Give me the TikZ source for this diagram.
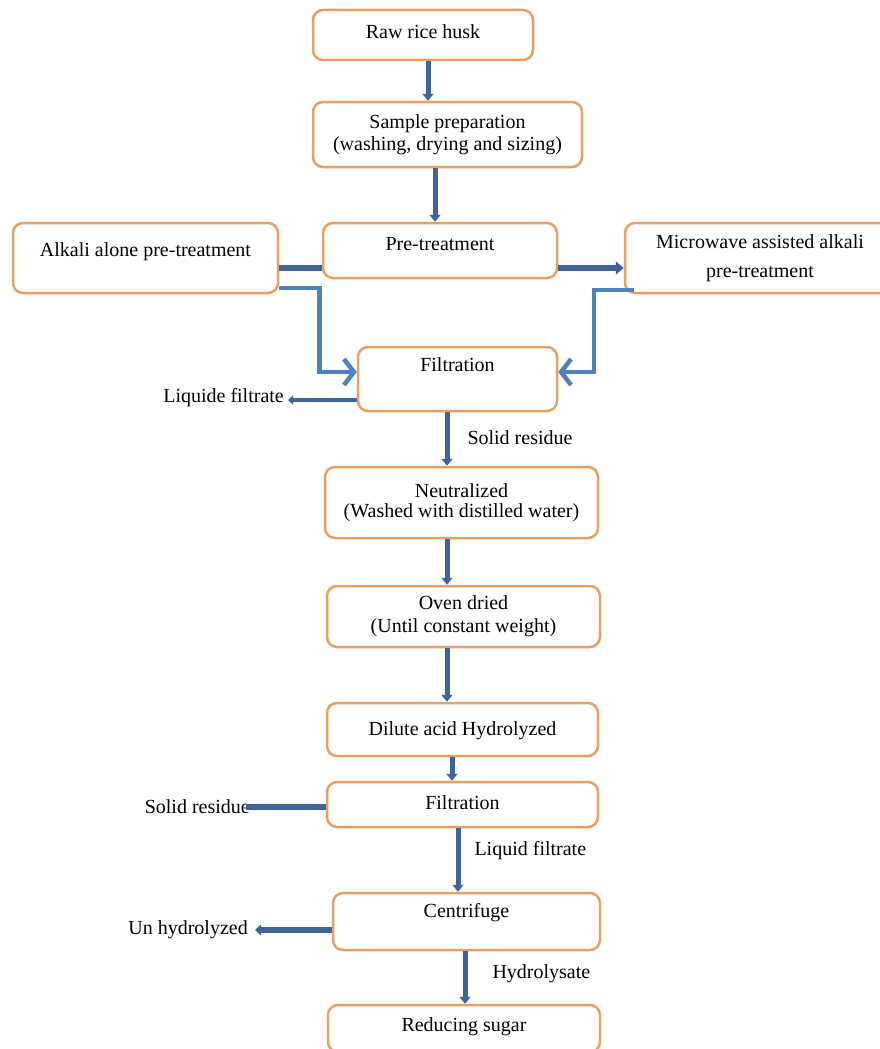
\documentclass[tikz,border=0pt]{standalone}
\usepackage{fontspec}
\setmainfont{Liberation Serif}
\usetikzlibrary{arrows.meta}
\definecolor{boxc}{RGB}{230,160,100}
\definecolor{linec}{RGB}{62,100,152}
\definecolor{lightc}{RGB}{79,129,189}
\begin{document}
\begin{tikzpicture}[x=1pt,y=-1pt,
  procbox/.style={draw=boxc, line width=2.5pt, rounded corners=10pt, fill=white, inner sep=0pt, align=center, font=\fontsize{20}{22}\selectfont, text=black},
  oneline/.style={text height=14pt, text depth=5pt},
  flow/.style={draw=linec, line width=5pt},
  flowarrow/.style={flow, -{Triangle[width=11pt,length=7pt]}},
  barb/.style={draw=lightc, line width=4.5pt, -{Straight Barb[length=10pt,width=26pt]}},
  lab/.style={font=\fontsize{20}{22}\selectfont, inner sep=0pt, text=black}]
\useasboundingbox (0,0) rectangle (880,1049);
\fill[white] (0,0) rectangle (880,1049);

% boxes
\node[procbox, oneline, text depth=8pt, minimum width=220pt, minimum height=50pt] (raw) at (423,35) {Raw rice husk};
\node[procbox, minimum width=269pt, minimum height=65pt] (prep) at (447.5,134.5) {Sample preparation\\(washing, drying and sizing)};
\node[procbox, oneline, text depth=15pt, minimum width=234pt, minimum height=55pt] (pre) at (440,250.5) {Pre-treatment};
\node[procbox, oneline, text depth=17pt, minimum width=265pt, minimum height=70pt] (alk) at (145.5,258) {Alkali alone pre-treatment};
\node[procbox, minimum width=270pt, minimum height=70pt] (mw) at (760,258) {Microwave assisted alkali\\[7pt]pre-treatment};
\node[procbox, oneline, text depth=29pt, minimum width=199pt, minimum height=64pt] (filt1) at (457.5,379) {Filtration};
\node[procbox, minimum width=273pt, minimum height=71pt] (neut) at (461.5,502.5) {Neutralized\\[-2pt](Washed with distilled water)};
\node[procbox, minimum width=273pt, minimum height=61pt] (oven) at (463.5,616.5) {Oven dried\\[1pt](Until constant weight)};
\node[procbox, oneline, text depth=3pt, minimum width=271pt, minimum height=53pt] (dil) at (462.5,729.5) {Dilute acid Hydrolyzed};
\node[procbox, oneline, minimum width=271pt, minimum height=45pt] (filt2) at (462.5,804.5) {Filtration};
\node[procbox, oneline, text depth=23pt, minimum width=267pt, minimum height=57pt] (cent) at (466.5,921.5) {Centrifuge};
\node[procbox, oneline, text depth=8pt, minimum width=272pt, minimum height=47pt] (red) at (464,1028.5) {Reducing sugar};

% side labels
\node[lab, anchor=east] (lf) at (284,398) {Liquide filtrate};
\node[lab, anchor=east] (sr) at (250,807) {Solid residue};
\node[lab, anchor=east] (uh) at (248,930) {Un hydrolyzed};

% main vertical flow
\draw[flowarrow] ([xshift=5pt]raw.south) -- ([xshift=5pt]raw.south |- prep.north);
\draw[flowarrow] ([xshift=-12.5pt]prep.south) -- ([xshift=-12.5pt]prep.south |- pre.north);
\draw[flowarrow] ([xshift=-10.5pt]filt1.south) -- ([xshift=-10.5pt]filt1.south |- neut.north)
  node[lab, midway, anchor=west, xshift=18pt, yshift=1pt] (l1) {Solid residue};
\draw[flowarrow] ([xshift=-14.5pt]neut.south) -- ([xshift=-14.5pt]neut.south |- oven.north);
\draw[flowarrow] ([xshift=-16.5pt]oven.south) -- ([xshift=-16.5pt]oven.south |- dil.north);
\draw[flowarrow] ([xshift=-10.5pt]dil.south) -- ([xshift=-10.5pt]dil.south |- filt2.north);
\draw[flowarrow] ([xshift=-4.5pt]filt2.south) -- ([xshift=-4.5pt]filt2.south |- cent.north)
  node[lab, pos=0.35, anchor=west, xshift=14pt] (l2) {Liquid filtrate};
\draw[flowarrow] ([xshift=-1.5pt]cent.south) -- ([xshift=-1.5pt]cent.south |- red.north)
  node[lab, pos=0.42, anchor=west, xshift=25pt] (l3) {Hydrolysate};

% pre-treatment branches
\draw[flowarrow, line width=6pt, -{Triangle[width=13pt,length=8pt]}] ([yshift=-17.5pt]pre.east) -- ([yshift=-17.5pt]pre.east -| mw.west);
\draw[flow, line width=6pt] ([yshift=-17.5pt]pre.west) -- ([yshift=-17.5pt]pre.west -| alk.east);
\draw[barb] ([yshift=-30pt]alk.east) -- ++(40,0) |- ([yshift=7pt]filt1.west);
\draw[barb] ([xshift=10pt,yshift=-32pt]mw.west) -- ++(-40,0) |- ([yshift=7pt]filt1.east);

% side outputs
\draw[flowarrow, line width=4.5pt, -{Triangle[width=9pt,length=5pt]}] ([yshift=-21pt]filt1.west) -- ([yshift=-21pt,xshift=4pt]filt1.west -| lf.east);
\draw[flow, line width=5.5pt] ([yshift=-2.5pt]filt2.west) -- ([yshift=-2.5pt,xshift=-4pt]filt2.west -| sr.east);
\draw[flowarrow, line width=5.5pt, -{Triangle[width=11pt,length=6pt]}] ([yshift=-8.5pt]cent.west) -- ([yshift=-8.5pt,xshift=7pt]cent.west -| uh.east);
\end{tikzpicture}
\end{document}
